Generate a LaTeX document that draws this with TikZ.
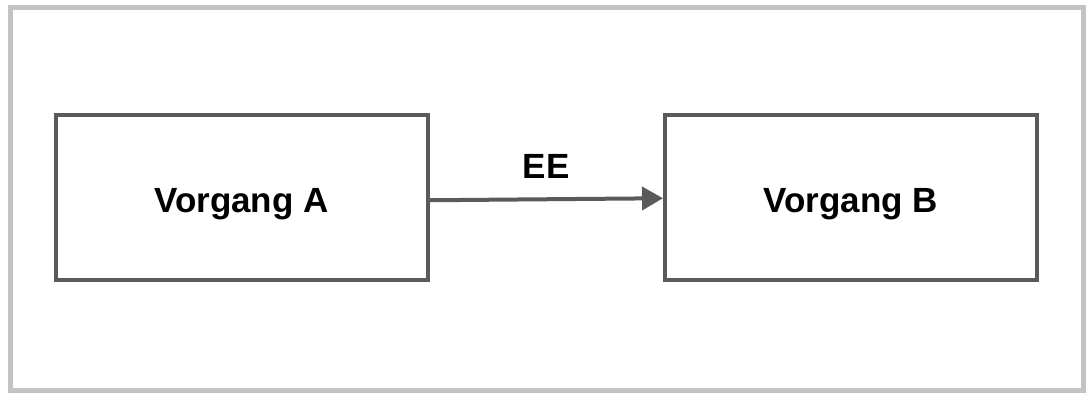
\documentclass[tikz,border=0pt]{standalone}
\usepackage{fontspec}
\setmainfont{Liberation Sans}
\usetikzlibrary{arrows.meta}
\definecolor{framegray}{HTML}{C3C3C3}
\definecolor{boxgray}{HTML}{5A5A5A}
\begin{document}
\begin{tikzpicture}[x=1pt, y=-1pt,
  stepbox/.style={draw=boxgray, line width=4pt, fill=white, inner sep=0pt,
    minimum width=372pt, minimum height=165.5pt,
    font=\fontsize{35}{40}\selectfont\bfseries,
    text height=30pt, text depth=0pt},
  link/.style={draw=boxgray, line width=4pt,
    -{Triangle[length=21pt, width=23pt]}},
  linklabel/.style={font=\fontsize{35}{40}\selectfont\bfseries, inner sep=0pt}]
  % page and outer frame
  \useasboundingbox (0,0) rectangle (1086,392);
  \draw[framegray, line width=5pt] (10.5,7.5) rectangle (1083.5,390);
  % the two activities
  \node[stepbox] (A) at (241.5,197.25) {Vorgang A};
  \node[stepbox] (B) at (851,197.25) {Vorgang B};
  % end-to-end dependency
  \draw[link] ([yshift=-3pt]A.east) -- ([yshift=-1pt]B.west)
    node[linklabel, midway, anchor=base, yshift=21pt] (ee) {EE};
\end{tikzpicture}
\end{document}
